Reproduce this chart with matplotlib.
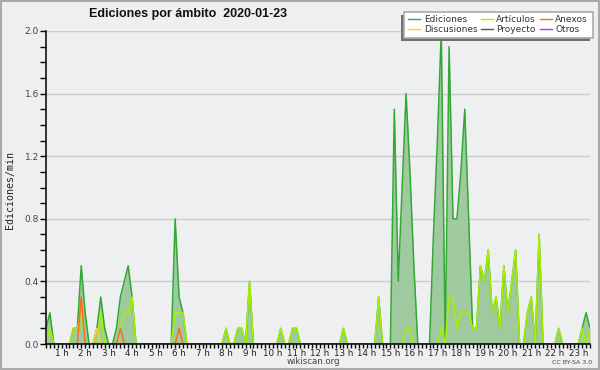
import matplotlib
matplotlib.use('Agg')
import matplotlib.pyplot as plt
from matplotlib.patches import Rectangle
from matplotlib.lines import Line2D
from matplotlib.ticker import MultipleLocator, FixedLocator
import numpy as np

# ---- data: edits per minute, 10-minute bins ----
N = 140
total_pts = {0: 0.1, 1: 0.2, 7: 0.1, 8: 0.1, 9: 0.5, 10: 0.2, 13: 0.1, 14: 0.3, 15: 0.1,
             18: 0.1, 19: 0.3, 20: 0.4, 21: 0.5, 22: 0.3, 33: 0.8, 34: 0.3, 35: 0.2,
             46: 0.1, 49: 0.1, 50: 0.1, 52: 0.4, 60: 0.1, 63: 0.1, 64: 0.1, 76: 0.1, 85: 0.3,
             89: 1.5, 90: 0.4, 91: 1.0, 92: 1.6, 93: 1.1, 94: 0.5,
             99: 0.7, 100: 1.3, 101: 2.0, 103: 1.9, 104: 0.8, 105: 0.8, 106: 1.1, 107: 1.5,
             108: 0.8, 109: 0.1, 110: 0.1, 111: 0.5, 112: 0.4, 113: 0.6, 114: 0.2, 115: 0.3,
             116: 0.1, 117: 0.5, 118: 0.2, 119: 0.4, 120: 0.6, 123: 0.2, 124: 0.3, 126: 0.7,
             131: 0.1, 137: 0.1, 138: 0.2, 139: 0.1}
articulos_pts = {1: 0.1, 7: 0.1, 8: 0.1, 9: 0.2, 14: 0.2, 19: 0.1, 20: 0.2, 21: 0.2, 22: 0.3,
                 33: 0.2, 34: 0.2, 35: 0.2, 46: 0.1, 49: 0.1, 50: 0.1, 52: 0.4, 60: 0.1,
                 63: 0.1, 64: 0.1, 76: 0.1, 85: 0.3, 92: 0.1, 93: 0.1,
                 101: 0.1, 103: 0.3, 104: 0.3, 105: 0.1, 106: 0.2, 107: 0.2, 108: 0.2,
                 109: 0.1, 110: 0.1, 111: 0.5, 112: 0.4, 113: 0.6, 114: 0.2, 115: 0.3,
                 116: 0.1, 117: 0.5, 118: 0.2, 119: 0.4, 120: 0.6, 123: 0.2, 124: 0.3,
                 126: 0.7, 131: 0.1, 137: 0.1, 139: 0.1}
anexos_pts = {9: 0.3, 19: 0.1, 34: 0.1}
discusiones_pts = {13: 0.1}
proyecto_pts = {}
otros_pts = {}

hour_labels = [f"{h} h" for h in range(1, 24)]
series_names = ["Ediciones", "Discusiones", "Artículos", "Proyecto", "Anexos", "Otros"]


def expand(pts):
    arr = np.zeros(N)
    for k, v in pts.items():
        arr[k] = v
    return arr


ediciones = expand(total_pts)
articulos = expand(articulos_pts)
anexos = expand(anexos_pts)
discusiones = expand(discusiones_pts)
proyecto = expand(proyecto_pts)
otros = expand(otros_pts)

colors = {"Ediciones": "#33a833", "Discusiones": "#ffcc33", "Artículos": "#aaee00",
          "Proyecto": "#555555", "Anexos": "#ff6a22", "Otros": "#9944ee"}

W, H = 600, 370
bg = '#eeeff1'
fig = plt.figure(figsize=(6, 3.7), dpi=100)
fig.patch.set_facecolor(bg)

ax = fig.add_axes([46 / W, 1 - 344 / H, 544 / W, 313 / H])
ax.set_facecolor(bg)
x = np.arange(N)

ax.fill_between(x, ediciones, 0, color='#9fca9f', lw=0, zorder=1)
ax.plot(x, proyecto, color=colors["Proyecto"], lw=1, zorder=2)
ax.plot(x, otros, color=colors["Otros"], lw=1, zorder=2)
ax.plot(x, ediciones, color=colors["Ediciones"], lw=1.1, zorder=3)
ax.plot(x, articulos, color=colors["Artículos"], lw=1.1, zorder=4)
ax.plot(x, discusiones, color=colors["Discusiones"], lw=1.1, zorder=5)
ax.plot(x, anexos, color=colors["Anexos"], lw=1.1, zorder=6)

ax.set_xlim(0, N - 1)
ax.set_ylim(0, 2.0)

for s in ['top', 'right']:
    ax.spines[s].set_visible(False)
for s in ['left', 'bottom']:
    ax.spines[s].set_color('black')
    ax.spines[s].set_linewidth(1.1)
    ax.spines[s].set_zorder(10)

ax.set_yticks([0, 0.4, 0.8, 1.2, 1.6, 2.0])
ax.set_yticklabels(["0.0", "0.4", "0.8", "1.2", "1.6", "2.0"])
ax.yaxis.set_minor_locator(MultipleLocator(0.1))
ax.yaxis.grid(True, which='major', color='#cccccc', lw=1)
ax.set_axisbelow(True)

label_pos = [6 * h - 2 for h in range(1, 24)]
ax.xaxis.set_major_locator(FixedLocator(label_pos))
ax.set_xticklabels(hour_labels)
ax.xaxis.set_minor_locator(MultipleLocator(1))

ax.tick_params(axis='y', which='both', direction='out', length=4, width=1,
               labelsize=6.5, labelcolor='#444444', pad=1)
ax.tick_params(axis='x', which='both', direction='out', length=3, width=1,
               labelsize=6.3, labelcolor='#222222', pad=0.5)

# y label & title
fig.text(10 / W, 1 - 190 / H, "Ediciones/min", rotation=90, ha='center', va='center',
         fontsize=7.2, family='DejaVu Sans Mono', color='#222222')
fig.text(188 / W, 1 - 14 / H, "Ediciones por ámbito  2020-01-23", ha='center', va='center',
         fontsize=9, fontweight='bold', family=['Liberation Sans', 'DejaVu Sans'],
         color='#111111')
fig.text(313 / W, 1 - 361 / H, "wikiscan.org", ha='center', va='center', fontsize=6.2,
         color='#444444')
fig.text(592 / W, 1 - 362 / H, "CC BY-SA 3.0", ha='right', va='center', fontsize=4.5,
         color='#444444')

# legend (manual)
def fig_rect(x0, y0, x1, y1, **kw):
    r = Rectangle((x0 / W, 1 - y1 / H), (x1 - x0) / W, (y1 - y0) / H,
                  transform=fig.transFigure, **kw)
    fig.add_artist(r)

fig_rect(401, 15, 590, 41, facecolor='#707070', edgecolor='none', zorder=20)
fig_rect(404, 12, 593, 38, facecolor='white', edgecolor='#aaaaaa', lw=1.2, zorder=21)
cols = [(408, 424), (481, 496), (540, 555)]
rows = [19, 29]
for i, name in enumerate(series_names):
    c, r = divmod(i, 2)
    hx, tx = cols[c]
    yy = 1 - rows[r] / H
    fig.add_artist(Line2D([hx / W, (hx + 12) / W], [yy, yy], transform=fig.transFigure,
                          color=colors[name], lw=1, zorder=22))
    fig.text(tx / W, yy, name, ha='left', va='center', fontsize=6.5, color='#333333',
             zorder=22)

# outer border
fig.add_artist(Rectangle((0, 0), 1, 1, transform=fig.transFigure, fill=False,
                         edgecolor='#aaaaaa', lw=2.9, zorder=30))

fig.savefig('out.png', dpi=100, facecolor=bg)
